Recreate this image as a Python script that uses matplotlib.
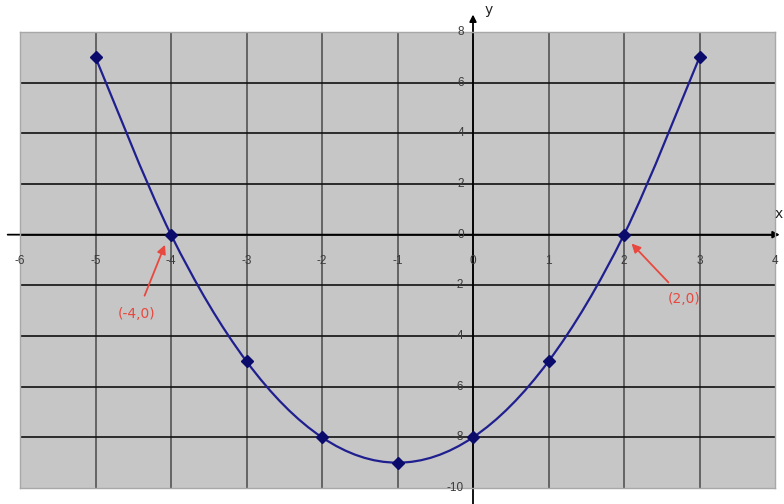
import numpy as np
import matplotlib
matplotlib.use('Agg')
import matplotlib.pyplot as plt
from matplotlib.path import Path
from matplotlib.patches import PathPatch

# --- dados da parábola y = x² + 2x - 8 ---
x_pts = [-5, -4, -3, -2, -1, 0, 1, 2, 3]
y_pts = [7, 0, -5, -8, -9, -8, -5, 0, 7]

x_ticks = [-6, -5, -4, -3, -2, -1, 0, 1, 2, 3, 4]
y_ticks = [8, 6, 4, 2, 0, -2, -4, -6, -8, -10]

raizes = [(-4, 0), (2, 0)]
rotulos_raizes = ['(-4,0)', '(2,0)']

COR_FUNDO = '#c6c6c6'
COR_CURVA = '#1f1f8f'
COR_PONTO = '#0b0b6b'
COR_SETA = '#e8483e'
COR_TICK = '#3a3a3a'


def curva_suave(xs, ys):
    """Caminho Bezier (Catmull-Rom) passando pelos pontos, como a linha suavizada do Excel."""
    p = np.column_stack([xs, ys]).astype(float)
    verts = [p[0]]
    codes = [Path.MOVETO]
    n = len(p)
    for i in range(n - 1):
        p0 = p[i - 1] if i > 0 else p[i]
        p3 = p[i + 2] if i + 2 < n else p[i + 1]
        c1 = p[i] + (p[i + 1] - p0) / 6.0
        c2 = p[i + 1] - (p3 - p[i]) / 6.0
        verts += [c1, c2, p[i + 1]]
        codes += [Path.CURVE4] * 3
    return Path(verts, codes)


fig = plt.figure(figsize=(7.84, 5.04), dpi=100)
W, H = 784, 504
ax = fig.add_axes([20 / W, 1 - 488 / H, 755 / W, 456 / H])
ax.set_xlim(-6, 4)
ax.set_ylim(-10, 8)
ax.set_facecolor(COR_FUNDO)
for s in ax.spines.values():
    s.set_color('#a8a8a8')
    s.set_linewidth(1.0)
ax.set_xticks([])
ax.set_yticks([])

# grade: verticais a cada 1, horizontais a cada 2
for xv in x_ticks[1:-1]:
    ax.axvline(xv, color='#4a4a4a', lw=1.1, zorder=1)
for yv in y_ticks[1:-1]:
    ax.axhline(yv, color='#111111', lw=1.2, zorder=1)

# eixos com setas
ax.annotate('', xy=(4.1, 0), xytext=(-6.2, 0), xycoords='data',
            arrowprops=dict(arrowstyle='-|>', color='black', lw=1.3, mutation_scale=10),
            annotation_clip=False, zorder=2)
ax.annotate('', xy=(0, 8.8), xytext=(0, -10.8), xycoords='data',
            arrowprops=dict(arrowstyle='-|>', color='black', lw=1.3, mutation_scale=10),
            annotation_clip=False, zorder=2)
ax.text(0.15, 8.85, 'y', fontsize=10, color='#222222', ha='left', va='center', clip_on=False)
ax.text(4.11, 0.8, 'x', fontsize=10, color='#222222', ha='right', va='center', clip_on=False)

# rótulos dos eixos
for xv in x_ticks:
    ax.text(xv, -1.05, str(xv), fontsize=8.5, color=COR_TICK, ha='center', va='center',
            family='Liberation Sans', clip_on=False, zorder=3)
for yv in y_ticks:
    ax.text(-0.12, yv, str(yv), fontsize=8.5, color=COR_TICK, ha='right', va='center',
            family='Liberation Sans', clip_on=False, zorder=3)

# curva e pontos
ax.add_patch(PathPatch(curva_suave(x_pts, y_pts), facecolor='none', edgecolor=COR_CURVA,
                       lw=1.6, zorder=4))
ax.plot(x_pts, y_pts, linestyle='none', marker='D', markersize=6.5,
        color=COR_PONTO, zorder=5)

# raízes destacadas
pos_texto = [(-4.45, -3.15), (2.8, -2.55)]
desloc_seta = [(-0.08, -0.4), (0.1, -0.35)]
for (rx, ry), rot, (tx, ty), (dx, dy) in zip(raizes, rotulos_raizes, pos_texto, desloc_seta):
    ax.annotate(rot, xy=(rx + dx, ry + dy), xytext=(tx, ty),
                fontsize=10, color=COR_SETA, ha='center', va='center',
                arrowprops=dict(arrowstyle='-|>', color=COR_SETA, lw=1.3,
                                mutation_scale=13, shrinkA=7, shrinkB=0),
                zorder=6)

fig.savefig('out.png', dpi=100)
